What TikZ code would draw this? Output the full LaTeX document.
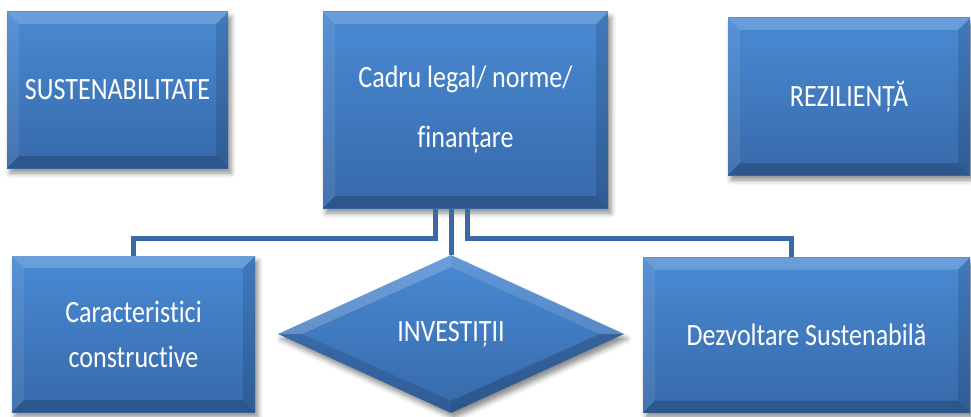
\documentclass[tikz,border=0pt]{standalone}
\usepackage{fontspec}
\setmainfont{Carlito}[FakeStretch=0.84,Ligatures={NoCommon}]
\usetikzlibrary{shapes.geometric,shadows.blur}
\definecolor{boxtop}{HTML}{4A8AD3}
\definecolor{boxbot}{HTML}{3669AA}
\definecolor{conncol}{HTML}{3A69A3}
\tikzset{
  softshadow/.style={blur shadow={shadow xshift=3pt, shadow yshift=-5pt, shadow blur radius=5pt, shadow opacity=45}},
  bevelbox/.style={path picture={
    \def\bv{12pt}
    \path (path picture bounding box.north west) coordinate (nw)
          (path picture bounding box.north east) coordinate (ne)
          (path picture bounding box.south west) coordinate (sw)
          (path picture bounding box.south east) coordinate (se);
    \fill[white,opacity=.18] (nw) -- (ne) -- ([xshift=-\bv,yshift=-\bv]ne) -- ([xshift=\bv,yshift=-\bv]nw) -- cycle;
    \fill[white,opacity=.08] (nw) -- (sw) -- ([xshift=\bv,yshift=\bv]sw) -- ([xshift=\bv,yshift=-\bv]nw) -- cycle;
    \fill[black,opacity=.18] (sw) -- (se) -- ([xshift=-\bv,yshift=\bv]se) -- ([xshift=\bv,yshift=\bv]sw) -- cycle;
    \fill[black,opacity=.12] (ne) -- (se) -- ([xshift=-\bv,yshift=\bv]se) -- ([xshift=-\bv,yshift=-\bv]ne) -- cycle;
  }},
  bevelkite/.style={path picture={
    \path (path picture bounding box.north) coordinate (kn)
          (path picture bounding box.south) coordinate (ks)
          (path picture bounding box.west) coordinate (kw)
          (path picture bounding box.east) coordinate (ke);
    \fill[white,opacity=.18] (kn) -- (kw) -- ([xshift=24pt]kw) -- ([yshift=-12pt]kn) -- cycle;
    \fill[white,opacity=.12] (kn) -- (ke) -- ([xshift=-24pt]ke) -- ([yshift=-12pt]kn) -- cycle;
    \fill[black,opacity=.12] (ks) -- (kw) -- ([xshift=24pt]kw) -- ([yshift=12pt]ks) -- cycle;
    \fill[black,opacity=.18] (ks) -- (ke) -- ([xshift=-24pt]ke) -- ([yshift=12pt]ks) -- cycle;
  }},
  blk/.style={rectangle, inner sep=0pt, top color=boxtop, bottom color=boxbot,
    text=white, align=center, font=\fontsize{31}{38}\selectfont, softshadow, bevelbox},
  kite/.style={diamond, aspect=2, inner sep=0pt, top color=boxtop, bottom color=boxbot,
    text=white, align=center, font=\fontsize{31}{38}\selectfont, softshadow, bevelkite},
  conn/.style={draw=conncol, line width=5pt},
}
\begin{document}
\begin{tikzpicture}[x=1pt,y=-1pt]
\useasboundingbox (0,0) rectangle (971,417);
\clip (0,0) rectangle (971,417);

\node[blk, minimum width=285pt, minimum height=196pt, font=\fontsize{31}{60}\selectfont]
  (cadru) at (465.5,110) {Cadru legal/ norme/\\finanțare};
\node[blk, minimum width=243pt, minimum height=156pt, font=\fontsize{31}{45}\selectfont]
  (carac) at (133.5,334) {Caracteristici\\constructive};
\node[kite, minimum width=346pt, minimum height=158pt] (invest) at (451,334) {INVESTIȚII};
\node[blk, minimum width=327pt, minimum height=155pt] (dezv) at (806.5,335) {Dezvoltare Sustenabilă};

\draw[conn] ([xshift=-30.5pt]cadru.south) -- ++(0,30) -| (carac.north);
\draw[conn] ([xshift=1.5pt]cadru.south) -- ++(0,30) -| ([xshift=-15.5pt]dezv.north);
\draw[conn] (cadru.south -| invest.north) -- (invest.north);

\node[blk, minimum width=221pt, minimum height=156pt] (sust) at (117.5,90) {SUSTENABILITATE};
\node[blk, minimum width=242pt, minimum height=157pt] (rez) at (849,96.5) {REZILIENȚĂ};
\end{tikzpicture}
\end{document}
